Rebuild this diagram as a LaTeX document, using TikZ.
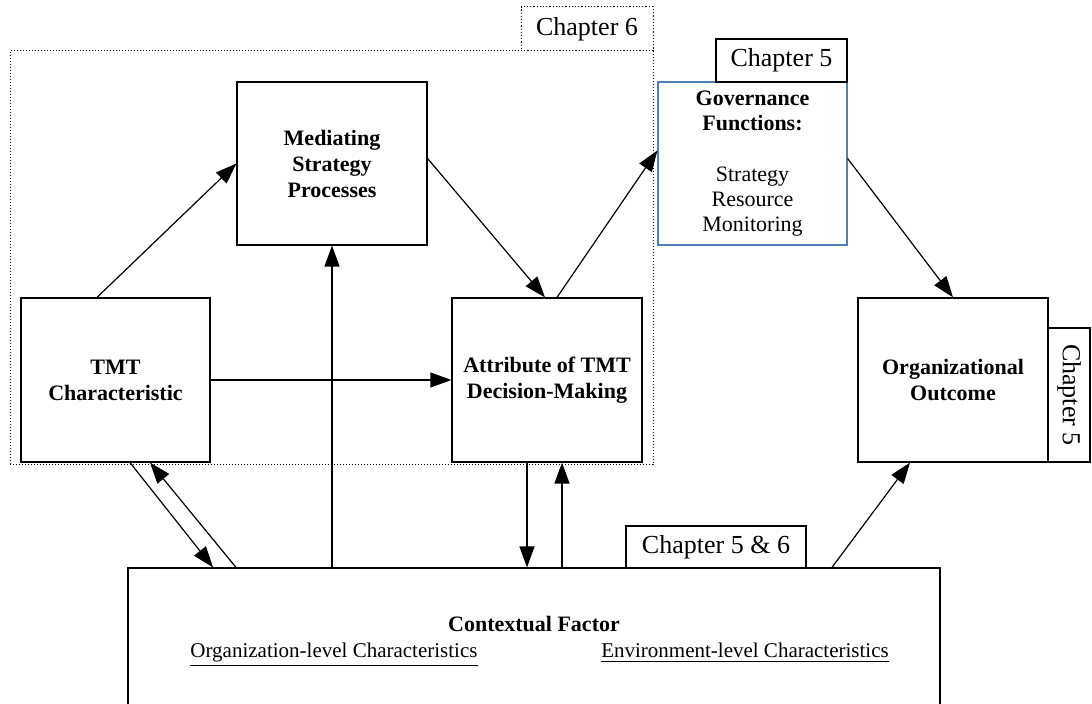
\documentclass[tikz,border=0pt]{standalone}
\usepackage{fontspec}
\setmainfont{Liberation Serif}
\usepackage{xcolor}
\definecolor{govblue}{HTML}{4F81BD}
\usepackage{tikz}
\usetikzlibrary{calc,arrows.meta,positioning}

\tikzset{
  box/.style={draw, line width=0.6pt, align=center, inner sep=2pt,
    font=\fontsize{11}{13}\selectfont\bfseries},
  tab/.style={draw, line width=0.6pt, fill=white, inner sep=0pt,
    font=\fontsize{13}{15}\selectfont},
  arr/.style={-{Triangle[length=10.5pt,width=7.5pt]}, line width=0.6pt},
  plain/.style={line width=0.6pt}
}

\begin{document}
\begin{tikzpicture}[x=0.5pt,y=-0.5pt]
  \useasboundingbox (0,0) rectangle (1092,704);
  \clip (0,0) rectangle (1092,704);
  % Chapter 6 region
  \node[draw, densely dotted, line width=0.5pt, minimum width=321.5pt,
        minimum height=207pt] (chsix) at (331.5,258) {};
  \node[tab, densely dotted, line width=0.5pt, minimum width=66pt,
        minimum height=22pt] (chsixtab) at (587,29) {Chapter 6};
  % Boxes
  \node[box, minimum width=94.5pt, minimum height=82pt] (tmt) at (115.5,380)
    {TMT\\Characteristic};
  \node[box, minimum width=95pt, minimum height=81.5pt] (med) at (332,163.5)
    {Mediating\\Strategy\\Processes};
  \node[box, minimum width=95pt, minimum height=82pt] (attr) at (547,380)
    {Attribute of TMT\\Decision-Making};
  \node[box, draw=govblue, minimum width=94.5pt, minimum height=81.5pt,
        font=\fontsize{11}{12.6}\selectfont] (gov) at (752.5,163.5)
    {\textbf{Governance}\\\textbf{Functions:}\\[12.6pt]Strategy\\Resource\\Monitoring};
  \node[tab, minimum width=65.5pt, minimum height=21.5pt] (chfivetab) at (781.5,60.5)
    {Chapter 5};
  \node[box, minimum width=95pt, minimum height=82pt] (org) at (953,380)
    {Organizational\\Outcome};
  \node[tab, rotate=-90, minimum width=67pt, minimum height=21pt] (orgtab)
    at (1069,395) {Chapter 5};
  % Contextual factor
  \node[draw, plain, minimum width=406pt, minimum height=86pt] (ctx) at (534,654) {};
  \node[tab, minimum width=90pt, minimum height=21pt] (ctxtab) at (716,547)
    {Chapter 5 \& 6};
  \node[font=\fontsize{11}{13}\selectfont\bfseries] (ctxtitle) at (534,624)
    {Contextual Factor};
  \node[font=\fontsize{10.5}{13}\selectfont, anchor=base] (orglevel) at (334,658)
    {\underline{Organization-level Characteristics}};
  \node[font=\fontsize{10.5}{13}\selectfont, anchor=base] (envlevel) at (745,658)
    {\underline{Environment-level Characteristics}};
  % Connectors
  \draw[arr] ($(tmt.north)+(-18.5,0)$) -- (med.west);
  \draw[arr] ($(med.east)+(0,-5)$) -- ($(attr.north)+(-2,0)$);
  \draw[arr] ($(attr.north)+(10,0)$) -- ($(gov.west)+(0,-13)$);
  \draw[arr] ($(gov.east)+(0,-5)$) -- (org.north);
  \draw[arr] (tmt.east) -- (attr.west);
  \draw[arr] (med.south |- ctx.north) -- (med.south);
  \coordinate (adown) at ($(attr.south)+(-20,0)$);
  \coordinate (aup) at ($(attr.south)+(15,0)$);
  \draw[arr] (adown) -- (adown |- ctx.north);
  \draw[arr] (aup |- ctx.north) -- (aup);
  \draw[arr] ($(tmt.south)+(14.5,0)$) -- ($(ctx.north)+(-321,0)$);
  \draw[arr] ($(ctx.north)+(-298,0)$) -- ($(tmt.south)+(34.5,0)$);
  \draw[arr] ($(ctx.north)+(298,0)$) -- ($(org.south)+(-43,0)$);
\end{tikzpicture}
\end{document}
